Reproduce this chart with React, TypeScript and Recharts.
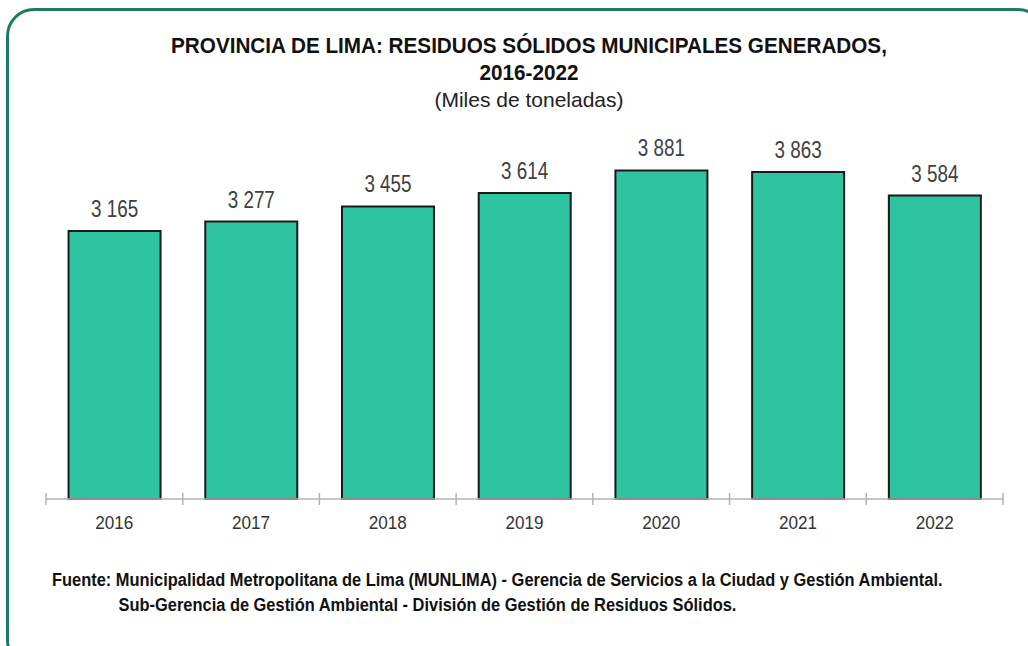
import React from 'react';
import { Bar, BarChart, LabelList, XAxis, YAxis } from 'recharts';

const years = ['2016', '2017', '2018', '2019', '2020', '2021', '2022'];
const residuos = [3165, 3277, 3455, 3614, 3881, 3863, 3584];

const titleLines = [
    'PROVINCIA DE LIMA: RESIDUOS SÓLIDOS MUNICIPALES GENERADOS,',
    '2016-2022',
];
const subtitle = '(Miles de toneladas)';
const sourceLines = [
    'Fuente: Municipalidad Metropolitana de Lima (MUNLIMA) - Gerencia de Servicios a la Ciudad y Gestión Ambiental.',
    'Sub-Gerencia de Gestión Ambiental - División de Gestión de Residuos Sólidos.',
];

const data = years.map((year, i) => ({ year, value: residuos[i] }));

const FONT = '"Liberation Sans", Arial, sans-serif';
const MARGIN = { top: 118, right: 25, bottom: 117, left: 46 };
const HALF_BAND = (1028 - MARGIN.left - MARGIN.right) / years.length / 2;

const fmt = (v: number) => String(v).replace(/\B(?=(\d{3})+(?!\d))/g, ' ');

// the source uses a narrow face; squeeze Liberation Sans horizontally
const YearTick = (props: any) => {
    const { x, y, payload, index } = props;
    const half = payload && payload.offset ? payload.offset : HALF_BAND;
    const last = index === years.length - 1;
    return (
        <g>
            <line x1={x - half} x2={x - half} y1={y - 6} y2={y + 6} stroke="#b3b3b3" strokeWidth={1.5} />
            {last && <line x1={x + half} x2={x + half} y1={y - 6} y2={y + 6} stroke="#b3b3b3" strokeWidth={1.5} />}
            <text
                transform={`translate(${x},${y + 30}) scale(0.9,1)`}
                textAnchor="middle"
                fill="#333"
                fontSize={19}
                fontFamily={FONT}
            >
                {payload.value}
            </text>
        </g>
    );
};

const ValueLabel = (props: any) => {
    const { x, y, width, value } = props;
    return (
        <text
            transform={`translate(${Number(x) + Number(width) / 2},${Number(y) - 14}) scale(0.82,1)`}
            textAnchor="middle"
            fill="#404040"
            fontSize={23}
            fontFamily={FONT}
        >
            {fmt(Number(value))}
        </text>
    );
};

const App: React.FC = () => (
    <div style={{ position: 'absolute', left: 0, top: 0, width: 1028, height: 646, overflow: 'hidden', background: '#fff' }}>
        <div
            style={{
                position: 'absolute',
                left: 6,
                top: 8,
                width: 1040,
                height: 660,
                border: '3px solid #1e7b63',
                borderRadius: 28,
                boxSizing: 'border-box',
            }}
        />
        <div style={{ position: 'absolute', left: 0, top: 32, width: 1058, textAlign: 'center', fontFamily: FONT, color: '#111' }}>
            {titleLines.map((t) => (
                <div key={t} style={{ fontWeight: 'bold', fontSize: 22, lineHeight: '27px', transform: 'scaleX(0.94)' }}>{t}</div>
            ))}
            <div style={{ fontSize: 21, lineHeight: '28px', color: '#222' }}>{subtitle}</div>
        </div>
        <BarChart
            width={1028}
            height={646}
            data={data}
            margin={MARGIN}
            barCategoryGap="16.5%"
            style={{ position: 'absolute', left: 0, top: 0 }}
        >
            <YAxis hide domain={[0, 4500]} />
            <XAxis
                dataKey="year"
                axisLine={{ stroke: '#b3b3b3', strokeWidth: 1.5 }}
                tickLine={false}
                tickSize={0}
                tickMargin={0}
                height={30}
                interval={0}
                tick={<YearTick />}
            />
            <Bar dataKey="value" fill="#2ec4a0" stroke="#1a1a1a" strokeWidth={2} isAnimationActive={false}>
                <LabelList dataKey="value" position="top" content={<ValueLabel />} />
            </Bar>
        </BarChart>
        <div
            style={{
                position: 'absolute',
                left: 52,
                top: 568,
                fontFamily: FONT,
                fontWeight: 'bold',
                fontSize: 17.5,
                lineHeight: '25px',
                color: '#111',
                whiteSpace: 'nowrap',
                transform: 'scaleX(0.938)',
                transformOrigin: 'left top',
            }}
        >
            <div>{sourceLines[0]}</div>
            <div style={{ paddingLeft: 71 }}>{sourceLines[1]}</div>
        </div>
    </div>
);

export default App;
